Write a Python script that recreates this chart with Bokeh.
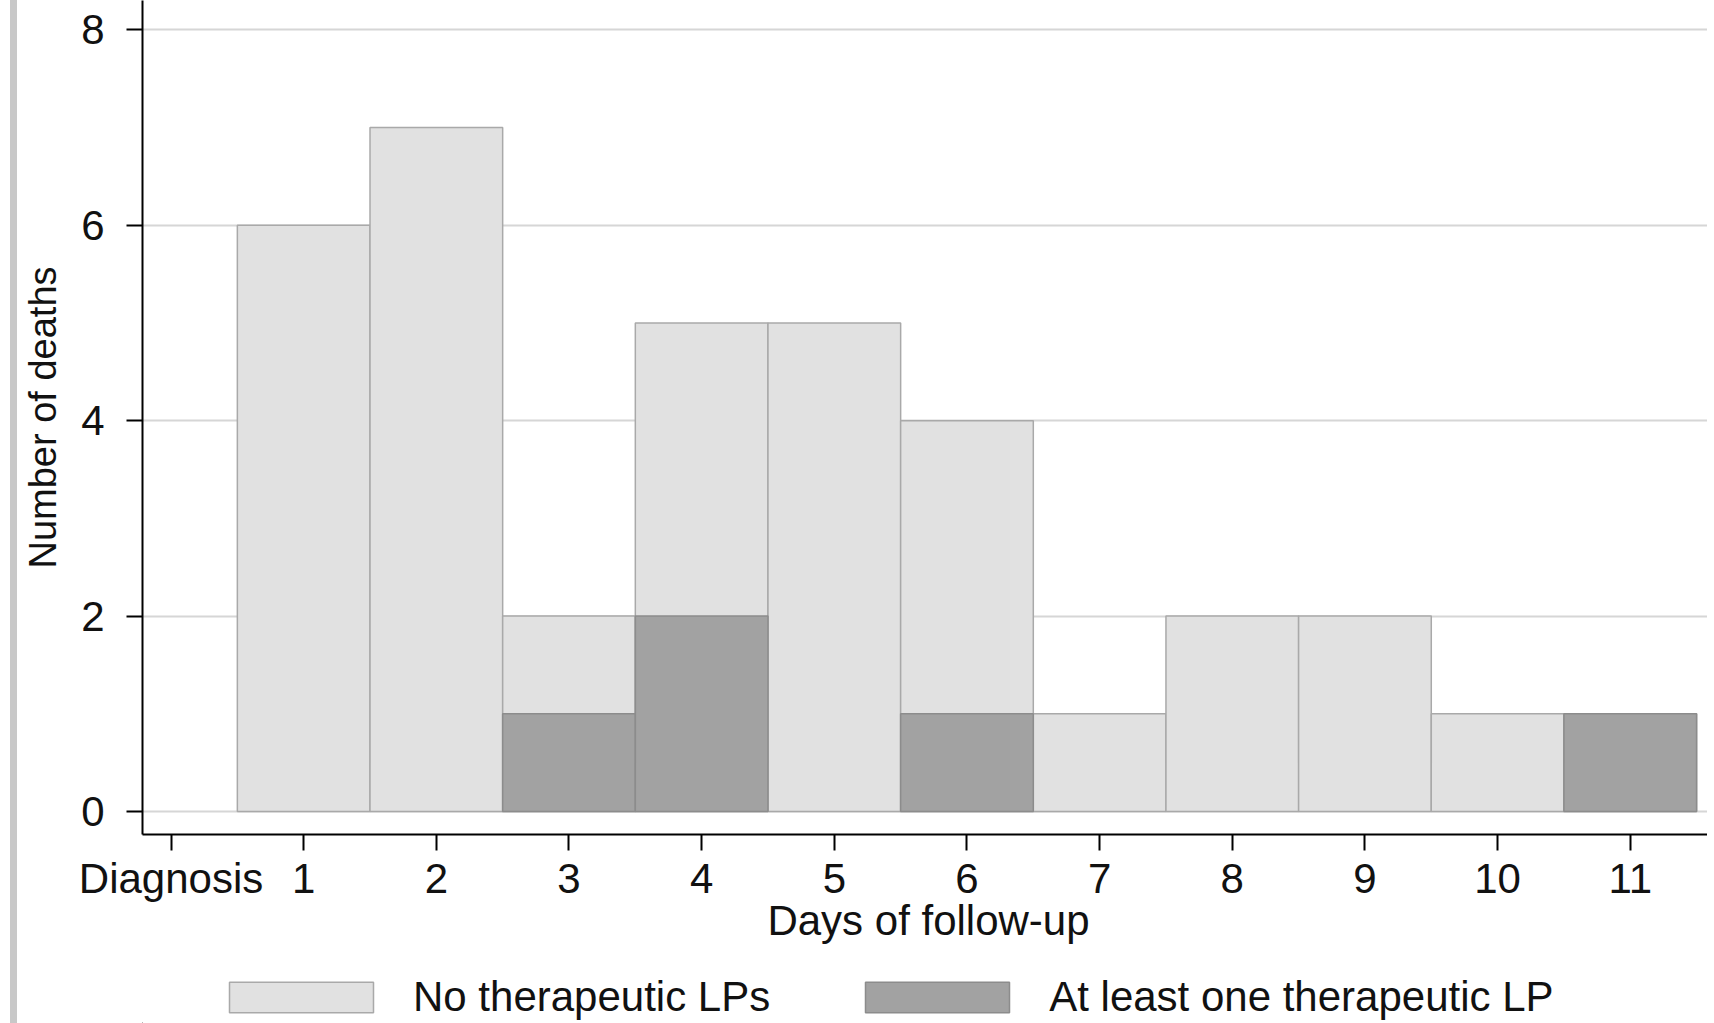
from bokeh.plotting import figure
from bokeh.layouts import column
from bokeh.models import Range1d, FixedTicker, Legend, LegendItem, ColumnDataSource
from bokeh.embed import file_html
from bokeh.resources import INLINE

# ---- data ----
days = [1, 2, 3, 4, 5, 6, 7, 8, 9, 10, 11]
total_deaths = [6, 7, 2, 5, 5, 4, 1, 2, 2, 1, 1]
therapeutic_lp_deaths = [0, 0, 1, 2, 0, 1, 0, 0, 0, 0, 1]
tick_values = [0, 1, 2, 3, 4, 5, 6, 7, 8, 9, 10, 11]
tick_labels = ["Diagnosis", "1", "2", "3", "4", "5", "6", "7", "8", "9", "10", "11"]
y_ticks = [0, 2, 4, 6, 8]
series_names = ["No therapeutic LPs", "At least one therapeutic LP"]

FONT = "Liberation Sans"
LIGHT = "#e1e1e1"
DARK = "#a2a2a2"
STRIP = {"border-left": "7px solid #c8c8c8", "margin-left": "10px"}

p = figure(width=1697, height=959, output_backend="svg", toolbar_location=None,
           x_range=Range1d(-0.215, 11.635), y_range=Range1d(-0.235, 8.30),
           min_border_left=125, min_border_right=0, min_border_top=0,
           min_border_bottom=125, sizing_mode="fixed")
p.outline_line_color = None
p.background_fill_color = "white"
p.border_fill_color = "white"
p.styles = STRIP

light_src = ColumnDataSource(dict(x=days, top=total_deaths))
dx = [d for d, v in zip(days, therapeutic_lp_deaths) if v > 0]
dv = [v for v in therapeutic_lp_deaths if v > 0]
dark_src = ColumnDataSource(dict(x=dx, top=dv))

light_style = dict(fill_color=LIGHT, line_color="#a9a9a9", line_width=1.5)
dark_style = dict(fill_color=DARK, line_color="#8c8c8c", line_width=1.5)

p.vbar(x="x", top="top", bottom=0, width=1.0, source=light_src, **light_style)
p.vbar(x="x", top="top", bottom=0, width=1.0, source=dark_src, **dark_style)

# axes
p.xaxis.ticker = FixedTicker(ticks=tick_values)
p.xaxis.major_label_overrides = {v: l for v, l in zip(tick_values, tick_labels)}
p.yaxis.ticker = FixedTicker(ticks=y_ticks)
for ax in (p.xaxis[0], p.yaxis[0]):
    ax.axis_line_color = "black"
    ax.axis_line_width = 2
    ax.major_tick_line_color = "black"
    ax.major_tick_line_width = 2
    ax.major_tick_in = 0
    ax.major_tick_out = 16
    ax.minor_tick_line_color = None
    ax.major_label_text_font = FONT
    ax.major_label_text_font_size = "42px"
    ax.major_label_text_color = "#111111"
    ax.axis_label_text_font = FONT
    ax.axis_label_text_font_style = "normal"
    ax.axis_label_text_color = "#111111"

p.xaxis.axis_label = "Days of follow-up"
p.xaxis.axis_label_text_font_size = "42px"
p.xaxis.major_label_standoff = 4
p.xaxis.axis_label_standoff = -8
p.yaxis.axis_label = "Number of deaths"
p.yaxis.axis_label_text_font_size = "38px"
p.yaxis.major_label_standoff = 22
p.yaxis.axis_label_standoff = 14
p.yaxis.major_label_orientation = "horizontal"

p.xgrid.visible = False
p.ygrid.ticker = FixedTicker(ticks=y_ticks)
p.ygrid.grid_line_color = "#d6d6d6"
p.ygrid.grid_line_width = 2

# ---- legend strip (separate figure below) ----
# the same series drawn again in a range where they fall out of view; only the legend shows
p2 = figure(width=1697, height=64, output_backend="svg", toolbar_location=None,
            x_range=Range1d(100, 112), y_range=Range1d(100, 101), sizing_mode="fixed",
            x_axis_location=None, y_axis_location=None,
            min_border_left=0, min_border_right=0, min_border_top=0, min_border_bottom=0)
p2.grid.visible = False
p2.outline_line_color = None
p2.styles = STRIP
lr = p2.vbar(x="x", top="top", bottom=0, width=1.0, source=light_src, **light_style)
dr = p2.vbar(x="x", top="top", bottom=0, width=1.0, source=dark_src, **dark_style)

legend = Legend(items=[LegendItem(label=series_names[0], renderers=[lr]),
                       LegendItem(label=series_names[1], renderers=[dr])],
                orientation="horizontal", location=(69, 2),
                label_text_font=FONT, label_text_font_size="42px",
                label_text_color="#111111",
                glyph_width=180, glyph_height=38, label_standoff=22,
                spacing=77, padding=0, margin=0,
                border_line_color=None, background_fill_alpha=0)
p2.add_layout(legend)

layout = column(p, p2, spacing=0)
open("out.html", "w").write(file_html(layout, INLINE))
